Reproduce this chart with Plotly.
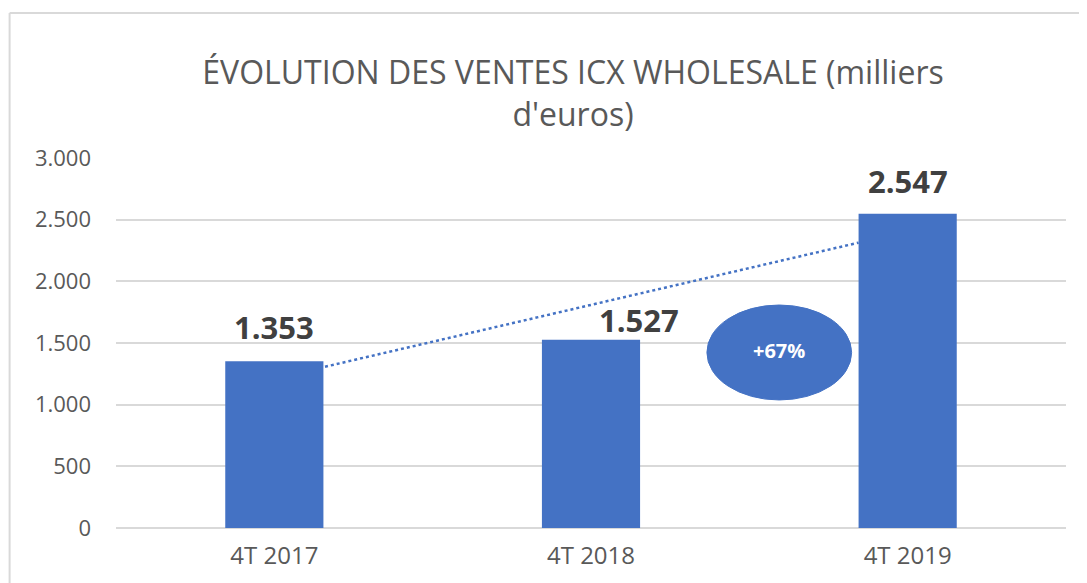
import numpy as np
import plotly.graph_objects as go

categories = ["4T 2017", "4T 2018", "4T 2019"]
ventes = [1353, 1527, 2547]
y_ticks = [0, 500, 1000, 1500, 2000, 2500, 3000]
growth_label = "+67%"
title_text = "ÉVOLUTION DES VENTES ICX WHOLESALE (milliers<br>d'euros)"

# label placement tweaks (pixels), as in the original chart
label_dx = [0, 48, 0]
label_dy = [11, -3, 10]

BLUE = "#4472C4"
OFF = 8  # page body margin offset
W, H = 1087 - OFF, 583 - OFF
L, R, T = 115.5 - OFF, 20.5, 158 - OFF
B = H - (528 - OFF)
pw, ph = W - L - R, H - T - B

xpos = np.arange(len(categories))
labels = [f"{v:,}".replace(",", ".") for v in ventes]

fig = go.Figure()
fig.add_trace(go.Bar(
    x=xpos, y=ventes, width=0.31, marker=dict(color=BLUE, line=dict(width=0)),
    hoverinfo="skip",
))

# linear trendline (least squares) between bar edges
slope, intercept = np.polyfit(xpos, ventes, 1)
tx = np.array([xpos[0] + 0.16, xpos[-1] - 0.155])
fig.add_trace(go.Scatter(
    x=tx, y=slope * tx + intercept, mode="lines",
    line=dict(color=BLUE, width=2.5, dash="dot"), hoverinfo="skip",
))

for xi, v, lab, dx, dy in zip(xpos, ventes, labels, label_dx, label_dy):
    fig.add_annotation(x=xi, y=v, xref="x", yref="y", text=lab, showarrow=False,
                       yanchor="bottom", yshift=dy, xshift=dx,
                       font=dict(family="Open Sans", size=31, color="#404040", weight="bold"))

# ellipse with growth label
fig.add_shape(type="circle", xref="x", yref="y",
              x0=1.366, x1=1.823, y0=1038, y1=1808,
              fillcolor=BLUE, line=dict(color=BLUE, width=1), layer="above")
fig.add_annotation(x=1.5945, y=1440, xref="x", yref="y", text=growth_label,
                   showarrow=False,
                   font=dict(family="Open Sans", size=20, color="white", weight="bold"))

# chart frame lines (outer border)
fx = (9 - OFF - L) / pw
fy = ((528 - OFF) - (13 - OFF)) / ph
fig.add_shape(type="line", xref="paper", yref="paper", x0=fx, x1=fx, y0=-1, y1=fy,
              line=dict(color="#d9d9d9", width=2))
fig.add_shape(type="line", xref="paper", yref="paper", x0=fx, x1=2, y0=fy, y1=fy,
              line=dict(color="#d9d9d9", width=2))

fig.update_layout(
    width=W, height=H,
    margin=dict(l=L, r=R, t=T, b=B, pad=0),
    paper_bgcolor="white", plot_bgcolor="white",
    separators=",.",
    showlegend=False,
    bargap=0.69,
    title=dict(text=title_text, xref="paper", x=(573 - OFF - L) / pw, xanchor="center",
               y=1 - 76 / H, yanchor="middle",
               font=dict(family="Open Sans", size=32, color="#595959")),
    xaxis=dict(tickmode="array", tickvals=xpos, ticktext=categories,
               range=[-0.5, len(categories) - 0.5], showgrid=False, zeroline=False,
               showline=False, ticks="", ticklabelstandoff=11,
               tickfont=dict(family="Open Sans", size=24, color="#595959")),
    yaxis=dict(range=[0, 3000], tickvals=y_ticks, tickformat=",d",
               showgrid=True, gridcolor="#d9d9d9", gridwidth=1.5,
               zeroline=True, zerolinecolor="#d9d9d9", zerolinewidth=2,
               showline=False, ticks="", ticklabelstandoff=24,
               tickfont=dict(family="Open Sans", size=22, color="#595959")),
)

fig.write_html("out.html")
